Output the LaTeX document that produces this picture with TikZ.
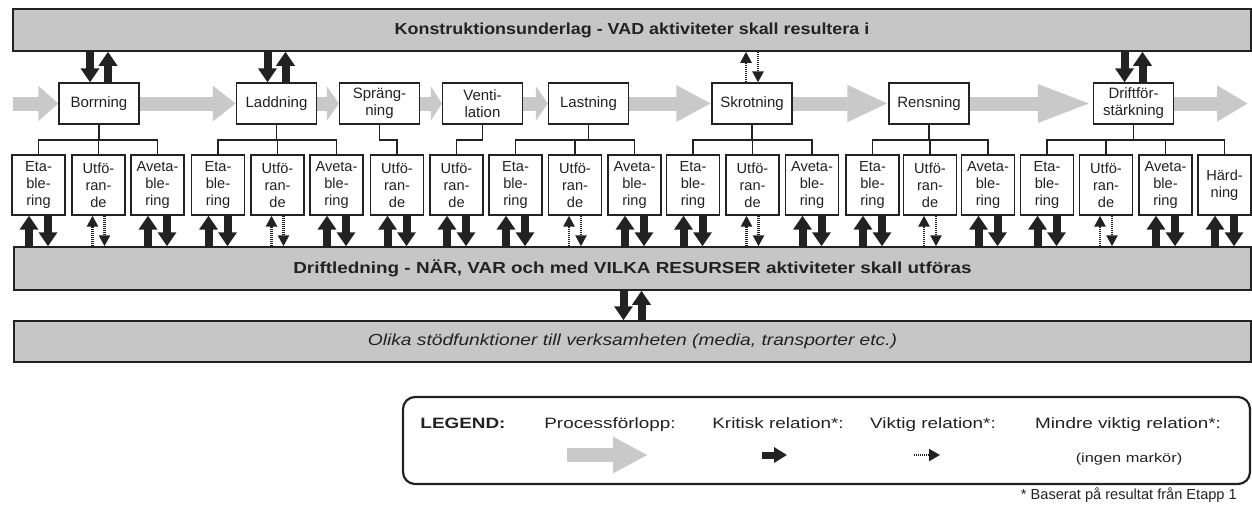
\documentclass[tikz,border=0pt]{standalone}
\usepackage{fontspec}
\setmainfont{Liberation Sans}
\usetikzlibrary{arrows.meta}
\definecolor{barfill}{HTML}{C6C6C6}
\definecolor{flowgray}{HTML}{C9C9C9}
\definecolor{ink}{HTML}{222222}
\pgfdeclarelayer{bg}
\pgfsetlayers{bg,main}
\newcommand{\etabl}{Eta-\\ble-\\ring}
\newcommand{\utfor}{Utfö-\\ran-\\de}
\newcommand{\avetabl}{Aveta-\\ble-\\ring}
\newcommand{\legscale}[1]{\scalebox{1.26}[1]{#1}}
\begin{document}
\begin{tikzpicture}[x=1pt,y=-1pt,color=ink,
  bar/.style={draw=ink, line width=1.5pt, fill=barfill, inner sep=0pt,
    font=\fontsize{16}{18}\selectfont},
  procbox/.style={draw=ink, line width=1.3pt, fill=white, minimum width=80pt,
    minimum height=41pt, inner sep=0pt, align=center,
    font=\fontsize{15}{17}\selectfont},
  subbox/.style={draw=ink, line width=1.3pt, fill=white, minimum width=53pt,
    minimum height=60pt, inner sep=0pt, align=center,
    font=\fontsize{14.6}{17}\selectfont},
  tree/.style={draw=ink, line width=1.5pt},
  crit/.style={draw=ink, line width=8pt, -{Triangle[width=18pt,length=14pt]}},
  imp/.style={draw=ink, line width=2.5pt, dash pattern=on 1pt off 1pt,
    -{Triangle[width=11pt,length=11pt]}},
  flow/.style={draw=flowgray, line width=14pt, -{Triangle[width=34pt,length=#1]}},
  legtext/.style={inner sep=0pt, anchor=base, font=\fontsize{15}{17}\selectfont},
]
\useasboundingbox (0,0) rectangle (1252,506);

% horizontal bars
\node[bar, minimum width=1238pt, minimum height=42pt] (konst) at (632,30)
  {\scalebox{1.12}[1]{\bfseries Konstruktionsunderlag - VAD aktiviteter skall resultera i}};
\node[bar, minimum width=1237pt, minimum height=43pt] (drl) at (632.5,268.5)
  {\scalebox{1.18}[1]{\bfseries Driftledning - NÄR, VAR och med VILKA RESURSER aktiviteter skall utföras}};
\node[bar, minimum width=1237pt, minimum height=41pt] (stod) at (632.5,341.5)
  {\scalebox{1.2}[1]{\itshape Olika stödfunktioner till verksamheten (media, transporter etc.)}};

% process steps
\node[procbox] (borr)  at (99,103.5)    {Borrning};
\node[procbox] (ladd)  at (276.5,103.5) {Laddning};
\node[procbox] (spr)   at (379.5,103.5) {Spräng-\\ning};
\node[procbox] (vent)  at (482.5,103.5) {Venti-\\lation};
\node[procbox] (last)  at (588.5,103.5) {Lastning};
\node[procbox] (skrot) at (752,103.5)   {Skrotning};
\node[procbox] (rens)  at (929,103.5)   {Rensning};
\node[procbox] (drift) at (1133.5,103.5){Driftför-\\stärkning};

% sub activities
\node[subbox] (s1)  at (38.5,185)   {\etabl};
\node[subbox] (s2)  at (98.5,185)   {\utfor};
\node[subbox] (s3)  at (157.5,185)  {\avetabl};
\node[subbox] (s4)  at (218,185)    {\etabl};
\node[subbox] (s5)  at (277.5,185)  {\utfor};
\node[subbox] (s6)  at (336.5,185)  {\avetabl};
\node[subbox] (s7)  at (397,185)    {\utfor};
\node[subbox] (s8)  at (456.5,185)  {\utfor};
\node[subbox] (s9)  at (515.5,185)  {\etabl};
\node[subbox] (s10) at (575,185)    {\utfor};
\node[subbox] (s11) at (634.5,185)  {\avetabl};
\node[subbox] (s12) at (693,185)    {\etabl};
\node[subbox] (s13) at (752.5,185)  {\utfor};
\node[subbox] (s14) at (812,185)    {\avetabl};
\node[subbox] (s15) at (872.5,185)  {\etabl};
\node[subbox] (s16) at (930,185)    {\utfor};
\node[subbox] (s17) at (988,185)    {\avetabl};
\node[subbox] (s18) at (1047,185)   {\etabl};
\node[subbox] (s19) at (1106,185)   {\utfor};
\node[subbox] (s20) at (1165.5,185) {\avetabl};
\node[subbox] (s21) at (1224.5,185) {Härd-\\ning};

\coordinate (bus) at (0,140);
\coordinate (fstart) at (13,103.5);
\coordinate (fend) at (1248,103.5);

\begin{pgfonlayer}{bg}
  % process flow
  \draw[flow=20pt] (fstart) -- (borr.west);
  \draw[flow=23pt] (borr.east) -- (ladd.west);
  \draw[flow=12pt] (ladd.east) -- (spr.west);
  \draw[flow=11pt] (spr.east) -- (vent.west);
  \draw[flow=12pt] (vent.east) -- (last.west);
  \draw[flow=35pt] (last.east) -- (skrot.west);
  \draw[flow=41pt] (skrot.east) -- (rens.west);
  \draw[flow=55pt] (rens.east) -- (drift.west);
  \draw[flow=31pt] (drift.east) -- (fend);
  % tree connectors
  \foreach \p/\kids in {borr/{s1,s2,s3}, ladd/{s4,s5,s6}, spr/{s7}, vent/{s8},
      last/{s9,s10,s11}, skrot/{s12,s13,s14}, rens/{s15,s16,s17},
      drift/{s18,s19,s20,s21}} {
    \foreach \k in \kids {
      \draw[tree] (\p.south) -- (\p.south |- bus) -| (\k.north);
    }
  }
\end{pgfonlayer}

% relations to the design basis
\foreach \n in {borr,ladd,drift} {
  \draw[crit] ([xshift=-9pt]\n.north |- konst.south) -- ([xshift=-9pt]\n.north);
  \draw[crit] ([xshift=9pt]\n.north) -- ([xshift=9pt]\n.north |- konst.south);
}
\draw[imp] ([xshift=-6pt]skrot.north) -- ([xshift=-6pt]skrot.north |- konst.south);
\draw[imp] ([xshift=6pt]skrot.north |- konst.south) -- ([xshift=6pt]skrot.north);

% relations to operations management
\foreach \i in {1,3,4,6,7,8,9,11,12,14,15,17,18,20,21} {
  \draw[crit] ([xshift=-9.5pt]s\i.south |- drl.north) -- ([xshift=-9.5pt]s\i.south);
  \draw[crit] ([xshift=9.5pt]s\i.south) -- ([xshift=9.5pt]s\i.south |- drl.north);
}
\foreach \i in {2,5,10,13,16,19} {
  \draw[imp] ([xshift=-6pt]s\i.south |- drl.north) -- ([xshift=-6pt]s\i.south);
  \draw[imp] ([xshift=6pt]s\i.south) -- ([xshift=6pt]s\i.south |- drl.north);
}
\draw[crit] ([xshift=-9pt]drl.south) -- ([xshift=-9pt]drl.south |- stod.north);
\draw[crit] ([xshift=9pt]stod.north) -- ([xshift=9pt]stod.north |- drl.south);

% legend
\node[draw=ink, line width=2.2pt, rounded corners=12pt, minimum width=847pt,
  minimum height=87pt, inner sep=0pt] (legend) at (826.5,440.5) {};
\node[legtext] (lgd) at (463,428) {\legscale{\bfseries LEGEND:}};
\node[legtext] (lproc) at (610,428) {\legscale{Processförlopp:}};
\node[legtext] (lkrit) at (778,428) {\legscale{Kritisk relation*:}};
\node[legtext] (lvikt) at (933,428) {\legscale{Viktig relation*:}};
\node[legtext] (lmind) at (1128,428) {\legscale{Mindre viktig relation*:}};
\node[legtext, font=\fontsize{13}{15}\selectfont] (lnone) at (1129,462)
  {\legscale{(ingen markör)}};
\coordinate (lpa) at (567,455);
\coordinate (lpb) at (648,455);
\draw[flow=35pt] (lpa) -- (lpb);
\coordinate (lka) at (762,455);
\coordinate (lkb) at (787,455);
\draw[draw=ink, line width=7pt, -{Triangle[width=15pt,length=13pt]}] (lka) -- (lkb);
\coordinate (lva) at (914,455);
\coordinate (lvb) at (940,455);
\draw[draw=ink, line width=2pt, dash pattern=on 1pt off 1pt,
  -{Triangle[width=12pt,length=11pt]}] (lva) -- (lvb);
\node[inner sep=0pt, anchor=east, font=\fontsize{14.6}{16}\selectfont] (fnote) at (1237,495)
  {* Baserat på resultat från Etapp 1};
\end{tikzpicture}
\end{document}
